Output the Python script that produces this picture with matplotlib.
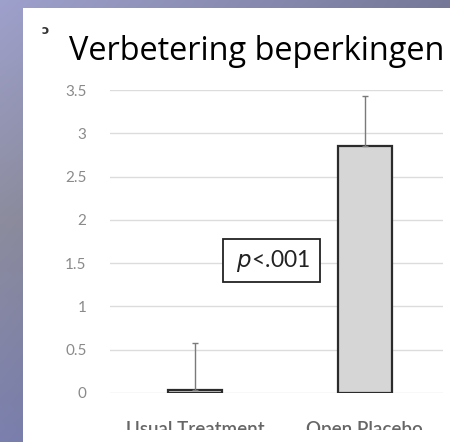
import numpy as np
import matplotlib
matplotlib.use("Agg")
import matplotlib.pyplot as plt
from matplotlib.patches import Rectangle

categories = ["Usual Treatment", "Open Placebo"]
means = [0.03, 2.85]
err_up = [0.55, 0.58]
yticks = [0, 0.5, 1, 1.5, 2, 2.5, 3, 3.5]
ytick_labels = ["0", "0.5", "1", "1.5", "2", "2.5", "3", "3.5"]
title = "Verbetering beperkingen"
p_label = r" $\it{p}$<.001 "

W, H = 450, 442
plt.rcParams["font.family"] = ["Lato", "DejaVu Sans"]

fig = plt.figure(figsize=(4.5, 4.42), dpi=100)

# slide background (blue/purple gradient) with white content panel
bg = fig.add_axes([0, 0, 1, 1])
bg.set_axis_off()
yy = np.linspace(0, 1, 200)[:, None]
xx = np.linspace(0, 1, 200)[None, :]
top = np.array([0.62, 0.63, 0.80])
mid = np.array([0.55, 0.55, 0.62])
bot = np.array([0.48, 0.50, 0.68])
grad = np.where(yy[..., None] < 0.5,
                top + (mid - top) * (yy[..., None] / 0.5),
                mid + (bot - mid) * ((yy[..., None] - 0.5) / 0.5))
grad = grad * (1 - 0.25 * xx[..., None])
grad = np.broadcast_to(grad, (200, 200, 3))
bg.imshow(grad, extent=[0, 1, 0, 1], aspect="auto", origin="upper")
bg.add_patch(Rectangle((23 / W, 0), 1 - 23 / W, 1 - 8 / H, facecolor="white",
                       edgecolor="none", transform=bg.transAxes))
bg.set_xlim(0, 1)
bg.set_ylim(0, 1)

fig.text(45 / W, 1 - 31 / H, "ɔ", fontsize=9, fontweight="bold", color="#333333",
         ha="center", va="center", family="DejaVu Sans")
fig.text(69 / W, 1 - 60 / H, title, fontsize=23.4, color="black",
         ha="left", va="baseline", family="Open Sans")

ax = fig.add_axes([110 / W, 49 / H, 333 / W, 303 / H])
ax.set_facecolor("none")
x = np.arange(len(categories))
ax.bar(x, means, width=0.32, color="#d6d6d6", edgecolor="#2b2b2b", linewidth=1.6, zorder=3)
ax.errorbar(x, means, yerr=[[0] * len(err_up), err_up], fmt="none", ecolor="#7a7a7a",
            elinewidth=1.0, capsize=2, capthick=1.0, zorder=4)

ax.set_xlim(-0.5, 1.46)
ax.set_ylim(0, 3.5)
ax.set_yticks(yticks)
ax.set_yticklabels(ytick_labels)
ax.yaxis.grid(True, color="#dcdcdc", lw=1.0, zorder=0)
ax.set_axisbelow(True)
for s in ax.spines.values():
    s.set_visible(False)
ax.tick_params(axis="y", length=0, pad=17, labelsize=11, labelcolor="#8a8a8a")
ax.tick_params(axis="x", length=0, pad=20, labelsize=13.5, labelcolor="#666666")
ax.set_xticks(x)
ax.set_xticklabels(categories, fontweight="semibold")

ax.text(0.45, 1.53, p_label, fontsize=16.5, color="#222222", ha="center", va="center",
        bbox=dict(facecolor="white", edgecolor="#222222", linewidth=1.3, pad=6))

# the screenshot cuts the category labels off at the bottom
fig.patches.append(Rectangle((23 / W, 0), 1 - 23 / W, 12 / H, facecolor="white",
                             edgecolor="none", transform=fig.transFigure, zorder=10,
                             figure=fig))

fig.savefig("out.png", dpi=100)
